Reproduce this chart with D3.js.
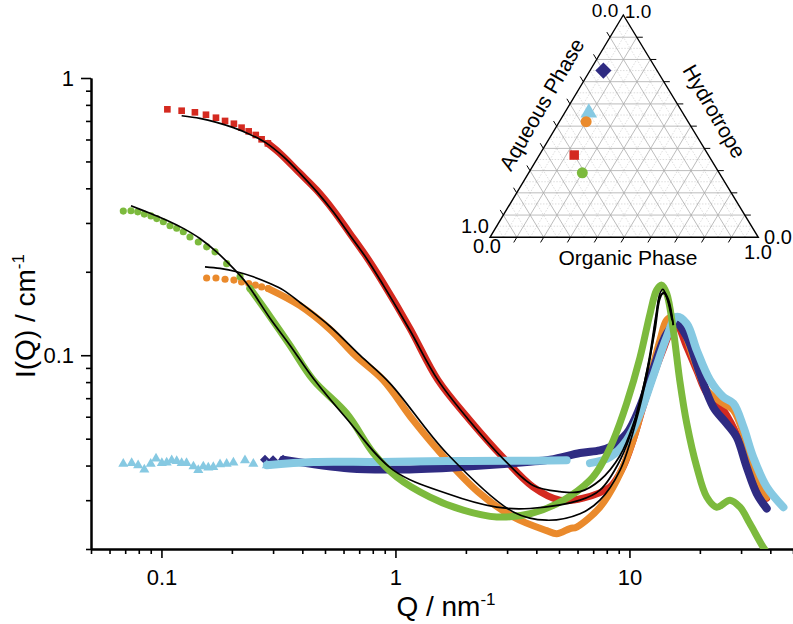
<!DOCTYPE html>
<html><head><meta charset="utf-8">
<script src="https://cdn.jsdelivr.net/npm/d3@7"></script>
<style>body{margin:0;background:#fff}svg{display:block}text{font-family:"Liberation Sans",Arial,sans-serif}</style>
</head><body>
<svg id="c" width="793" height="624"></svg>
<script>
// ---------- DATA ----------
const xMajorTicks=[0.1,1,10];
const xTickLabels=["0.1","1","10"];
const xMinorTicks=[0.05,0.06,0.07,0.08,0.09,0.2,0.3,0.4,0.5,0.6,0.7,0.8,0.9,2,3,4,5,6,7,8,9,20,30,40,50];
const yMajorTicks=[0.1,1];
const yTickLabels=["0.1","1"];
const yMinorTicks=[0.02,0.03,0.04,0.05,0.06,0.07,0.08,0.09,0.2,0.3,0.4,0.5,0.6,0.7,0.8,0.9];

// red squares (sample 1)
const redMarkers=[[0.106,0.771],[0.122,0.762],[0.139,0.752],[0.155,0.737],[0.171,0.719],[0.187,0.70],[0.204,0.684],[0.220,0.662],[0.236,0.642],[0.253,0.623],[0.268,0.601],[0.285,0.581]];
const redDense=[[0.285,0.581],[0.321,0.535],[0.391,0.453],[0.461,0.394],[0.542,0.334],[0.639,0.275],[0.753,0.226],[0.887,0.182],[1.153,0.125],[1.52,0.0813],[2.08,0.0583],[2.88,0.0428],[3.87,0.0335],[5.05,0.0300],[6.34,0.0305],[8.26,0.0335],[9.39,0.0395],[10.36,0.0493],[11.43,0.0651],[12.6,0.0835],[13.9,0.1042],[14.9,0.1197],[16.0,0.1265],[17.5,0.108],[19.4,0.088],[21.4,0.073],[24.0,0.067],[26.0,0.061],[28.7,0.052],[31.7,0.042],[35.0,0.035],[38.6,0.0305]];
// orange circles
const orangeMarkers=[[0.156,0.190],[0.171,0.190],[0.187,0.188],[0.204,0.1866],[0.220,0.1839],[0.236,0.1815],[0.252,0.179],[0.268,0.1764],[0.286,0.174]];
const orangeDense=[[0.286,0.174],[0.391,0.151],[0.525,0.124],[0.672,0.100],[0.887,0.0813],[1.19,0.0583],[1.66,0.0418],[2.30,0.0317],[3.19,0.0261],[4.43,0.0233],[4.89,0.0227],[5.57,0.0237],[5.95,0.0240],[7.48,0.0283],[8.83,0.0354],[10.36,0.0493],[11.86,0.0748],[13.5,0.1133],[14.43,0.1338],[15.4,0.1375],[16.98,0.1231],[18.75,0.098],[21.4,0.0748],[25.2,0.067],[27.8,0.0633],[30.7,0.0522],[33.8,0.0395],[38.6,0.0308]];
// green circles
const greenMarkers=[[0.0687,0.331],[0.0741,0.332],[0.0792,0.329],[0.0845,0.323],[0.0902,0.318],[0.0955,0.311],[0.1019,0.303],[0.1088,0.293],[0.1162,0.287],[0.124,0.279],[0.1324,0.267],[0.1437,0.256],[0.1561,0.246],[0.1694,0.236],[0.190,0.214],[0.2167,0.192],[0.239,0.174]];
const greenDense=[[0.239,0.174],[0.291,0.138],[0.354,0.1087],[0.446,0.0813],[0.619,0.0616],[0.804,0.0444],[1.013,0.0364],[1.405,0.0308],[1.95,0.0276],[2.71,0.0261],[3.76,0.0268],[5.22,0.0300],[6.78,0.0354],[7.48,0.0395],[8.53,0.0493],[9.73,0.067],[11.09,0.098],[12.25,0.1414],[13.07,0.1717],[13.74,0.179],[14.43,0.167],[15.4,0.1231],[16.4,0.0813],[17.58,0.0567],[19.4,0.0395],[21.4,0.0308],[23.6,0.0283],[26.9,0.0300],[29.7,0.0283],[32.7,0.0247],[37.3,0.0203],[39.5,0.0190]];
// light blue triangles
const cyanMarkers=[[0.0687,0.0406],[0.0746,0.0408],[0.0795,0.0401],[0.0845,0.0387],[0.0900,0.0406],[0.0948,0.0424],[0.1004,0.0408],[0.1053,0.0410],[0.1106,0.0418],[0.1162,0.0415],[0.122,0.0408],[0.128,0.0408],[0.137,0.0397],[0.1437,0.0385],[0.151,0.0397],[0.1586,0.0393],[0.1666,0.0395],[0.178,0.0404],[0.190,0.0406],[0.203,0.0410],[0.2275,0.0418],[0.247,0.0406],[0.282,0.0401]];
const cyanDense=[[0.282,0.0401],[0.446,0.0412],[0.859,0.0412],[1.66,0.0415],[3.19,0.0416],[5.39,0.0418],null,[6.78,0.0408],[8.26,0.0429],[9.73,0.0493],[11.09,0.0616],[12.6,0.0835],[14.43,0.1164],[15.9,0.1375],[17.58,0.130],[19.4,0.1042],[22.1,0.0813],[25.2,0.0707],[27.8,0.067],[30.7,0.0551],[33.8,0.0429],[38.6,0.0335],[45.5,0.0283]];
// navy diamonds
const navyMarkers=[[0.277,0.0420],[0.300,0.0418],[0.331,0.0420]];
const navyDense=[[0.331,0.0420],[0.639,0.0390],[1.046,0.0387],[1.71,0.0393],[2.80,0.0404],[4.58,0.0420],[6.15,0.0444],[7.48,0.0454],[8.26,0.0467],[9.73,0.0522],[11.09,0.0651],[12.6,0.0883],[14.43,0.1197],[15.9,0.130],[17.58,0.1164],[20.0,0.0859],[22.8,0.0651],[26.0,0.0567],[28.7,0.0507],[31.7,0.0395],[35.0,0.0317],[38.6,0.0280]];
// model fits (black)
const redFit=[[0.122,0.731],[0.146,0.715],[0.172,0.692],[0.203,0.662],[0.239,0.626],[0.282,0.581],[0.332,0.520],[0.391,0.453],[0.461,0.389],[0.542,0.329],[0.639,0.271],[0.753,0.2234],[0.887,0.179],[1.153,0.1231],[1.52,0.0813],[2.08,0.0578],[2.88,0.0424],[3.88,0.0339],[5.05,0.0322],[6.15,0.0322],[7.48,0.0354],[9.12,0.0435],[10.36,0.0561],[11.65,0.0813],[12.86,0.1231],[13.5,0.160],[14.06,0.1688],[14.7,0.158],[15.4,0.1283]];
const greenFit=[[0.0741,0.346],[0.0894,0.325],[0.1053,0.307],[0.124,0.2868],[0.146,0.2637],[0.172,0.236],[0.203,0.2056],[0.2314,0.1815],[0.291,0.136],[0.354,0.1087],[0.446,0.0824],[0.619,0.059],[0.979,0.0385],[1.66,0.0317],[2.71,0.0283],[3.76,0.0280],[6.15,0.0300],[7.48,0.0326],[9.12,0.0418],[10.57,0.0583],[12.0,0.092],[12.99,0.1395],[13.5,0.167],[13.9,0.173],[14.5,0.160],[15.2,0.1338]];
const orangeFit=[[0.1535,0.2084],[0.178,0.2056],[0.2097,0.200],[0.247,0.1918],[0.291,0.1815],[0.332,0.1717],[0.391,0.155],[0.525,0.1272],[0.705,0.100],[0.948,0.0792],[1.66,0.0442],[3.19,0.0272],[4.43,0.0254],[6.15,0.0268],[7.48,0.0300],[9.12,0.0385],[10.57,0.0561],[12.0,0.0883],[12.99,0.136],[13.5,0.1633],[14.06,0.167],[14.7,0.155],[15.4,0.1283]];

// ternary inset: compositions [organic, hydrotrope] (aqueous = 1 - both)
const ternNames=["navy","cyan","orange","red","green"];
const ternOrganic=[0.05,0.09,0.10,0.13,0.20];
const ternHydrotrope=[0.75,0.56,0.52,0.37,0.29];
const ternSteps=[0.1,0.2,0.3,0.4,0.5,0.6,0.7,0.8,0.9];
const ternHalfSteps=[0.05,0.15,0.25,0.35,0.45,0.55,0.65,0.75,0.85,0.95];

// ---------- STYLE ----------
const COL={red:"#d42a20",orange:"#ea8a2c",green:"#7cba3d",navy:"#2f2b82",cyan:"#86c9e2"};

const svg=d3.select("#c");
const x=d3.scaleLog().domain([0.05,50]).range([91,793]);
const y=d3.scaleLog().domain([0.02,1]).range([549,78]);

svg.append("clipPath").attr("id","pc").append("rect").attr("x",91).attr("y",70).attr("width",702).attr("height",479);

// axes
function styleAxis(g,w){g.select(".domain").attr("stroke","#000").attr("stroke-width",w);g.selectAll(".tick line").attr("stroke","#000").attr("stroke-width",1.6);}
const gxm=svg.append("g").attr("transform","translate(0,549)").call(d3.axisBottom(x).tickValues(xMinorTicks).tickSize(5).tickSizeOuter(0).tickFormat(""));
styleAxis(gxm,2);
const gxM=svg.append("g").attr("transform","translate(0,549)").call(d3.axisBottom(x).tickValues(xMajorTicks).tickSize(9).tickSizeOuter(0).tickPadding(11).tickFormat((d,i)=>xTickLabels[i]));
styleAxis(gxM,2);
gxM.selectAll("text").attr("font-size",22).attr("fill","#000").attr("font-family","Liberation Sans, Arial, sans-serif");
const gym=svg.append("g").attr("transform","translate(91,0)").call(d3.axisLeft(y).tickValues(yMinorTicks).tickSize(5).tickSizeOuter(0).tickFormat(""));
styleAxis(gym,2);
const gyM=svg.append("g").attr("transform","translate(91,0)").call(d3.axisLeft(y).tickValues(yMajorTicks).tickSize(10).tickSizeOuter(0).tickPadding(7).tickFormat((d,i)=>yTickLabels[i]));
styleAxis(gyM,2);
gyM.selectAll("text").attr("font-size",22).attr("fill","#000").attr("font-family","Liberation Sans, Arial, sans-serif");

// axis titles
const xt=svg.append("text").attr("x",446).attr("y",616).attr("text-anchor","middle").attr("font-size",28);
xt.append("tspan").text("Q / nm");
xt.append("tspan").attr("dy",-11).attr("font-size",17).text("-1");
const yt=svg.append("text").attr("transform","translate(35,316) rotate(-90)").attr("text-anchor","middle").attr("font-size",28);
yt.append("tspan").text("I(Q) / cm");
yt.append("tspan").attr("dy",-11).attr("font-size",17).text("-1");

// series
const plot=svg.append("g").attr("clip-path","url(#pc)");
const line=d3.line().defined(d=>d!==null).x(d=>x(d[0])).y(d=>y(d[1])).curve(d3.curveCatmullRom.alpha(0.5));
function dense(data,col,w){plot.append("path").datum(data).attr("d",line).attr("fill","none").attr("stroke",col).attr("stroke-width",w).attr("stroke-linejoin","round").attr("stroke-linecap","round");}
function markers(data,col,type,size){
  plot.append("g").selectAll("path").data(data).join("path")
   .attr("transform",d=>`translate(${x(d[0])},${y(d[1])})`)
   .attr("d",d3.symbol().type(type).size(size)).attr("fill",col);
}
const diamond={draw(ctx,size){const r=Math.sqrt(size/2);ctx.moveTo(0,-r);ctx.lineTo(r,0);ctx.lineTo(0,r);ctx.lineTo(-r,0);ctx.closePath();}};

dense(redDense,COL.red,7); markers(redMarkers,COL.red,d3.symbolSquare,44);
dense(orangeDense,COL.orange,7); markers(orangeMarkers,COL.orange,d3.symbolCircle,40);
dense(navyDense,COL.navy,8); markers(navyMarkers,COL.navy,diamond,50);
dense(cyanDense,COL.cyan,8); markers(cyanMarkers,COL.cyan,d3.symbolTriangle,44);
dense(greenDense,COL.green,7); markers(greenMarkers,COL.green,d3.symbolCircle,40);
[redFit,greenFit,orangeFit].forEach(f=>plot.append("path").datum(f).attr("d",line).attr("fill","none").attr("stroke","#000").attr("stroke-width",1.7));

// ---------- TERNARY INSET ----------
const T={top:[623.3,15],bl:[490,237.3],br:[758.3,237.3]};
const ty=d3.scaleLinear().domain([0,1]).range([T.bl[1],T.top[1]]);
function tp(o,h){const a=1-o-h;return [T.bl[0]*a+T.br[0]*o+T.top[0]*h, ty(h)];}
const tg=svg.append("g");
function seg(p,q,stroke,w,dash){tg.append("line").attr("x1",p[0]).attr("y1",p[1]).attr("x2",q[0]).attr("y2",q[1]).attr("stroke",stroke).attr("stroke-width",w).attr("stroke-dasharray",dash||null);}
ternHalfSteps.forEach(v=>{
  seg(tp(0,v),tp(1-v,v),"#cfcfcf",0.7,"1.5,1.5");
  seg(tp(v,0),tp(v,1-v),"#cfcfcf",0.7,"1.5,1.5");
  seg(tp(1-v,0),tp(0,1-v),"#cfcfcf",0.7,"1.5,1.5");
});
ternSteps.forEach(v=>{
  seg(tp(0,v),tp(1-v,v),"#ababab",0.8);
  seg(tp(v,0),tp(v,1-v),"#ababab",0.8);
  seg(tp(1-v,0),tp(0,1-v),"#ababab",0.8);
});
tg.append("path").attr("d",`M${T.top}L${T.bl}L${T.br}Z`).attr("fill","none").attr("stroke","#000").attr("stroke-width",1.4);
const tl=6;
ternSteps.forEach(v=>{
  const pb=tp(v,0); const dl=[T.bl[0]-T.top[0],T.bl[1]-T.top[1]]; const nl=Math.hypot(...dl);
  seg(pb,[pb[0]+dl[0]/nl*tl,pb[1]+dl[1]/nl*tl],"#000",1);
  const pl=tp(0,v); const dr=[T.top[0]-T.br[0],T.top[1]-T.br[1]]; const nr=Math.hypot(...dr);
  seg(pl,[pl[0]+dr[0]/nr*tl,pl[1]+dr[1]/nr*tl],"#000",1);
  const pr=tp(1-v,v);
  seg(pr,[pr[0]+tl,pr[1]],"#000",1);
});
function tlabel(px,py,s,fs){tg.append("text").attr("x",px).attr("y",py).attr("text-anchor","middle").attr("font-size",fs||20).text(s);}
tlabel(605,17,"0.0",19);tlabel(638,18,"1.0",19);
tlabel(475,233,"1.0");tlabel(487,253,"0.0");
tlabel(778,244,"0.0");tlabel(758,259,"1.0");
tg.append("text").attr("x",628).attr("y",265).attr("text-anchor","middle").attr("font-size",21).text("Organic Phase");
tg.append("text").attr("transform","translate(548,108) rotate(-60)").attr("text-anchor","middle").attr("font-size",21).text("Aqueous Phase");
tg.append("text").attr("transform","translate(708,115) rotate(60)").attr("text-anchor","middle").attr("font-size",21).text("Hydrotrope");
const ternSym=[diamond,d3.symbolTriangle,d3.symbolCircle,d3.symbolSquare,d3.symbolCircle];
const ternSize=[130,120,95,90,95];
tg.append("g").selectAll("path").data(ternNames).join("path")
  .attr("transform",(d,i)=>{const p=tp(ternOrganic[i],ternHydrotrope[i]);return `translate(${p[0]},${p[1]})`;})
  .attr("d",(d,i)=>d3.symbol().type(ternSym[i]).size(ternSize[i])())
  .attr("fill",d=>COL[d]);
</script>
</body></html>
